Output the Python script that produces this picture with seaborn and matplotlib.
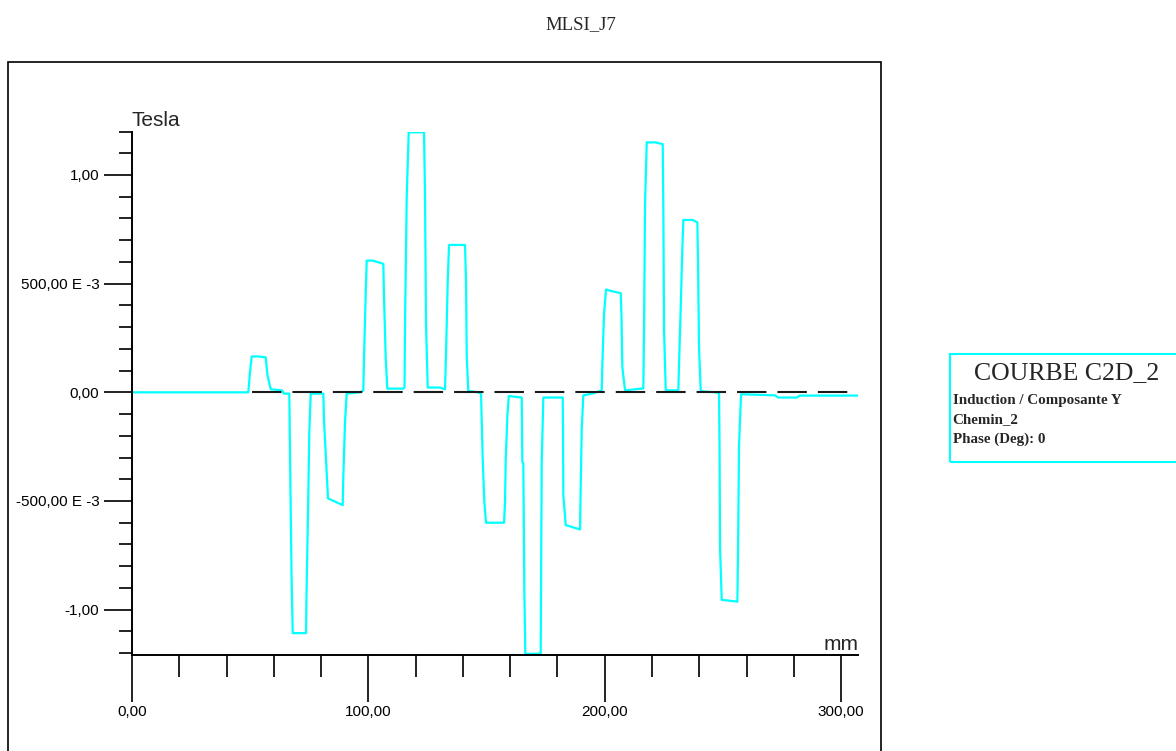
import matplotlib
matplotlib.use("Agg")
import matplotlib.pyplot as plt
import pandas as pd
import seaborn as sns
from matplotlib.ticker import MultipleLocator
from matplotlib.patches import Rectangle

# ---------------- data ----------------
position_mm = [0.00, 49.21, 49.93, 50.65, 53.32, 56.57, 57.33, 58.69, 63.47, 64.32,
               66.56, 66.86, 67.49, 68.00, 73.63, 73.84, 74.47, 75.02, 75.61, 80.95,
               81.24, 82.38, 82.93, 89.15, 89.41, 90.13, 90.85, 96.48, 97.87, 98.17,
               98.89, 99.31, 101.85, 106.34, 106.63, 107.35, 108.03, 114.80, 115.31, 115.52,
               116.24, 117.08, 123.56, 123.98, 124.40, 125.12, 130.33, 132.44, 132.86, 133.58,
               134.13, 140.90, 141.33, 141.62, 142.30, 146.41, 147.67, 147.89, 148.39, 149.07,
               149.79, 157.41, 157.83, 158.13, 158.80, 159.40, 164.90, 165.15, 165.57, 166.00,
               166.42, 172.93, 173.06, 173.36, 174.04, 182.24, 182.37, 182.50, 183.51, 189.57,
               189.78, 190.28, 190.96, 195.19, 198.75, 199.00, 199.72, 200.57, 203.23, 206.79,
               207.13, 207.46, 208.61, 216.35, 216.65, 217.07, 217.79, 221.30, 224.56, 224.81,
               225.11, 225.83, 231.16, 231.46, 232.18, 232.85, 233.28, 237.25, 239.20, 239.50,
               239.92, 240.64, 246.69, 248.38, 248.59, 248.81, 249.52, 256.13, 256.42, 256.84,
               257.69, 272.08, 273.35, 281.26, 282.66, 307.32]
induction_T = [0.000, 0.000, 0.092, 0.165, 0.165, 0.161, 0.078, 0.014, 0.009, -0.006,
               -0.006, -0.285, -0.831, -1.108, -1.108, -0.928, -0.556, -0.188, -0.006, -0.006,
               -0.129, -0.371, -0.488, -0.519, -0.389, -0.136, -0.006, 0.000, 0.009, 0.162,
               0.456, 0.606, 0.606, 0.591, 0.438, 0.155, 0.017, 0.017, 0.024, 0.312,
               0.902, 1.196, 1.196, 0.902, 0.312, 0.022, 0.022, 0.014, 0.175, 0.507,
               0.678, 0.678, 0.507, 0.170, 0.006, 0.000, -0.006, -0.098, -0.308, -0.504,
               -0.600, -0.600, -0.504, -0.308, -0.113, -0.017, -0.024, -0.320, -0.328, -0.910,
               -1.203, -1.203, -0.910, -0.320, -0.024, -0.024, -0.175, -0.473, -0.611, -0.631,
               -0.481, -0.171, -0.014, -0.005, 0.009, 0.124, 0.362, 0.473, 0.465, 0.456,
               0.339, 0.116, 0.009, 0.018, 0.288, 0.864, 1.150, 1.150, 1.142, 0.854,
               0.288, 0.009, 0.009, 0.132, 0.395, 0.660, 0.793, 0.793, 0.782, 0.591,
               0.201, 0.005, 0.000, -0.003, -0.243, -0.718, -0.955, -0.963, -0.726, -0.243,
               -0.009, -0.014, -0.024, -0.024, -0.015, -0.015]

reference_x = [50.6, 303.8]
reference_y = [0.0, 0.0]

xtick_values = [0, 100, 200, 300]
xtick_labels = ["0,00", "100,00", "200,00", "300,00"]
ytick_values = [-1.0, -0.5, 0.0, 0.5, 1.0]
ytick_labels = ["-1,00", "-500,00 E -3", "0,00", "500,00 E -3", "1,00"]

title_text = "MLSI_J7"
x_unit = "mm"
y_unit = "Tesla"
legend_title = "COURBE C2D_2"
legend_lines = ["Induction / Composante Y", "Chemin_2", "Phase (Deg): 0"]

# ---------------- style ----------------
sns.set_style("white")
plt.rcParams["font.family"] = ["Liberation Sans", "DejaVu Sans"]
plt.rcParams["lines.scale_dashes"] = False

W, H = 1176, 751
fig = plt.figure(figsize=(W / 100, H / 100), dpi=100)
fig.patch.set_facecolor("white")
ax = fig.add_axes([132 / W, 1 - 655.3 / H, 726.3 / W, 523.8 / H])
ax.set_facecolor("white")

df = pd.DataFrame({"mm": position_mm, "T": induction_T})
sns.lineplot(data=df, x="mm", y="T", sort=False, estimator=None,
             color="#00FFFF", linewidth=1.6, ax=ax, zorder=2)
ref = pd.DataFrame({"mm": reference_x, "T": reference_y})
ax.plot(ref["mm"], ref["T"], color="#1a1a1a", linewidth=1.5,
        linestyle=(0, (21.2, 7.9)), zorder=3)

ax.set_xlim(0, 307.3)
ax.set_ylim(-1.21, 1.2)
ax.set_xlabel("")
ax.set_ylabel("")

for s in ["top", "right"]:
    ax.spines[s].set_visible(False)
for s in ["left", "bottom"]:
    ax.spines[s].set_color("black")
    ax.spines[s].set_linewidth(1.4)

ax.set_xticks(xtick_values, xtick_labels)
ax.xaxis.set_minor_locator(MultipleLocator(20))
ax.set_yticks(ytick_values, ytick_labels)
ax.yaxis.set_minor_locator(MultipleLocator(0.1))

ax.tick_params(axis="x", which="major", bottom=True, direction="out", length=33.8, width=1.4,
               color="#222222", pad=2, labelsize=11, labelcolor="black")
ax.tick_params(axis="x", which="minor", bottom=True, direction="out", length=16, width=1.4,
               color="#222222")
ax.tick_params(axis="y", which="major", left=True, direction="out", length=20, width=1.4,
               color="#222222", pad=3.5, labelsize=11, labelcolor="black")
ax.tick_params(axis="y", which="minor", left=True, direction="out", length=9.5, width=1.4,
               color="#222222")
ax.grid(False)

ax.text(1.0, 0.01, x_unit, transform=ax.transAxes, ha="right", va="baseline", fontsize=15)
ax.text(0.0, 1.0105, y_unit, transform=ax.transAxes, ha="left", va="baseline", fontsize=15)

fig.text(581 / W, 1 - 25 / H, title_text, ha="center", va="center",
         family=["Liberation Serif", "DejaVu Serif"], fontsize=13.5)

# outer frame
fig.add_artist(Rectangle((8 / W, -0.02), (881 - 8) / W, (1 - 62 / H) + 0.02,
                         transform=fig.transFigure, fill=False, ec="black", lw=1.2))

# legend box
fig.add_artist(Rectangle((950 / W, 1 - 461.7 / H), (1185 - 950) / W, (461.7 - 354.3) / H,
                         transform=fig.transFigure, fill=False, ec="#00FFFF", lw=1.5))
fig.text(1067 / W, 1 - 373 / H, legend_title, ha="center", va="center",
         family=["Liberation Serif", "DejaVu Serif"], fontsize=18.5)
for i, line in enumerate(legend_lines):
    fig.text(952.7 / W, 1 - (400 + 19.5 * i) / H, line, ha="left", va="center",
             family=["Liberation Serif", "DejaVu Serif"], fontsize=10.8, fontweight="bold")

fig.savefig("out.png", dpi=100)
